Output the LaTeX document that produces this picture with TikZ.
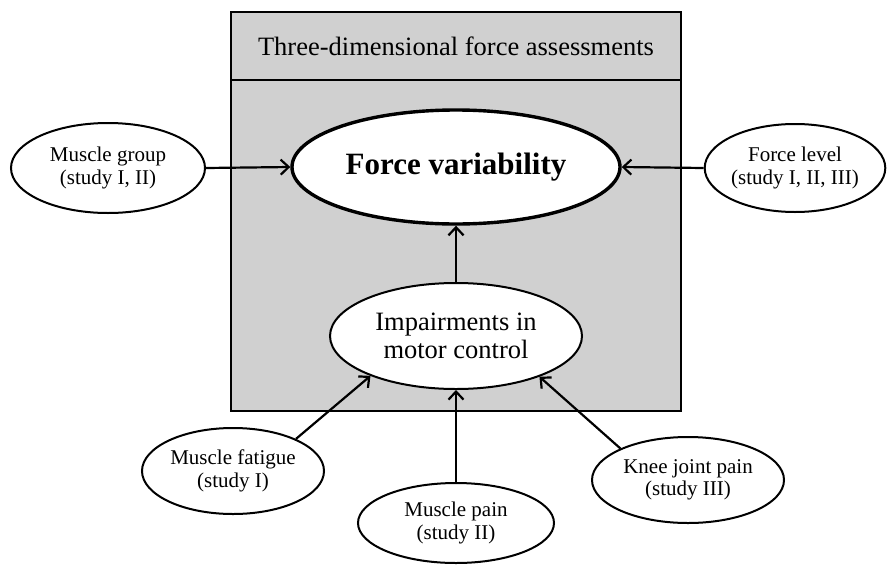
\documentclass[tikz,border=0pt]{standalone}
\usepackage{fontspec}
\setmainfont{Liberation Serif}
\usetikzlibrary{shapes.geometric,arrows.meta}
\definecolor{boxgray}{HTML}{D0D0D0}
\tikzset{
  factor/.style={ellipse, draw=black, line width=2pt, fill=white, inner sep=0pt, align=center,
    font=\fontsize{21}{22.5}\selectfont},
  arr/.style={line width=2.2pt, -{Straight Barb[length=8pt,width=15pt,line width=2.2pt]}},
}
\begin{document}
\begin{tikzpicture}[x=1pt,y=-1pt]
\useasboundingbox (0,0) rectangle (888,565);
% frame
\draw[line width=2.4pt, fill=boxgray] (231,12) rectangle (681,411);
\draw[line width=2.4pt] (231,80) -- (681,80);
\node (hdr) at (456,46) {\fontsize{26.5}{28}\selectfont Three-dimensional force assessments};
% central nodes
\node[ellipse, draw=black, line width=3.4pt, fill=white, inner sep=0pt, minimum width=328pt, minimum height=114pt]
  (fv) at (456,167) {\fontsize{31}{33}\selectfont\bfseries Force variability};
\node[ellipse, draw=black, line width=2pt, fill=white, inner sep=0pt, align=center, minimum width=252pt, minimum height=106pt,
  font=\fontsize{26.5}{28.5}\selectfont]
  (imp) at (456,336) {Impairments in\\motor control};
% outer factors
\node[factor, minimum width=194pt, minimum height=90pt] (mg) at (108,168) {Muscle group\\(study I, II)};
\node[factor, minimum width=180pt, minimum height=88pt] (fl) at (795,168) {Force level\\(study I, II, III)};
\node[factor, minimum width=182pt, minimum height=86pt] (mf) at (233,471) {Muscle fatigue\\(study I)};
\node[factor, minimum width=196pt, minimum height=80pt] (mp) at (456,523) {Muscle pain\\(study II)};
\node[factor, minimum width=192pt, minimum height=86pt] (kp) at (688,480) {Knee joint pain\\(study III)};
% connectors
\draw[arr] (mg.east) -- (fv.west);
\draw[arr] (fl.west) -- (fv.east);
\draw[arr] (imp.north) -- (fv.south);
\draw[arr] (mf.27) -- (imp.205);
\draw[arr] (mp.north) -- (imp.south);
\draw[arr] (kp.155) -- (imp.-26);
\end{tikzpicture}
\end{document}
